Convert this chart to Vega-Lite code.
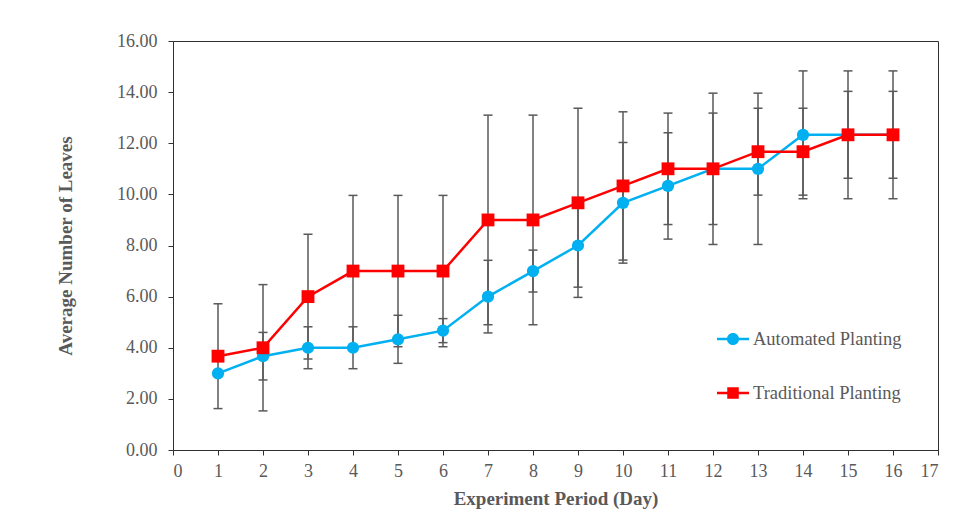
{
  "$schema": "https://vega.github.io/schema/vega-lite/v6.json",
  "width": 765,
  "height": 409,
  "autosize": {"type": "none"},
  "padding": {"left": 173, "top": 41, "right": 35, "bottom": 80},
  "background": "white",
  "config": {
    "view": {"stroke": "#303030", "strokeWidth": 1},
    "font": "Liberation Serif",
    "axis": {
      "labelFont": "Liberation Serif",
      "labelFontSize": 18,
      "labelColor": "#595959",
      "titleFont": "Liberation Serif",
      "titleFontSize": 19,
      "titleFontWeight": "bold",
      "titleColor": "#595959",
      "domainColor": "#303030",
      "tickColor": "#303030",
      "tickSize": 5,
      "grid": false
    },
    "legend": {
      "title": null, "orient": "none", "legendX": 544, "legendY": 282,
      "symbolSize": 1024, "symbolOpacity": 1, "symbolStrokeWidth": 0,
      "labelFont": "Liberation Serif", "labelFontSize": 18.5, "labelColor": "#595959",
      "labelOffset": 4, "rowPadding": 28
    }
  },
  "data": {
    "values": [
      {"day": 1, "series": "Automated Planting", "mean": 3.00, "lo": 3.00, "hi": 3.00},
      {"day": 2, "series": "Automated Planting", "mean": 3.67, "lo": 2.74, "hi": 4.60},
      {"day": 3, "series": "Automated Planting", "mean": 4.00, "lo": 3.18, "hi": 4.82},
      {"day": 4, "series": "Automated Planting", "mean": 4.00, "lo": 3.18, "hi": 4.82},
      {"day": 5, "series": "Automated Planting", "mean": 4.33, "lo": 3.39, "hi": 5.27},
      {"day": 6, "series": "Automated Planting", "mean": 4.67, "lo": 4.20, "hi": 5.14},
      {"day": 7, "series": "Automated Planting", "mean": 6.00, "lo": 4.58, "hi": 7.42},
      {"day": 8, "series": "Automated Planting", "mean": 7.00, "lo": 6.18, "hi": 7.82},
      {"day": 9, "series": "Automated Planting", "mean": 8.00, "lo": 6.37, "hi": 9.63},
      {"day": 10, "series": "Automated Planting", "mean": 9.67, "lo": 7.31, "hi": 12.03},
      {"day": 11, "series": "Automated Planting", "mean": 10.33, "lo": 8.25, "hi": 12.41},
      {"day": 12, "series": "Automated Planting", "mean": 11.00, "lo": 8.82, "hi": 13.18},
      {"day": 13, "series": "Automated Planting", "mean": 11.00, "lo": 8.04, "hi": 13.96},
      {"day": 14, "series": "Automated Planting", "mean": 12.33, "lo": 9.83, "hi": 14.83},
      {"day": 15, "series": "Automated Planting", "mean": 12.33, "lo": 10.63, "hi": 14.03},
      {"day": 16, "series": "Automated Planting", "mean": 12.33, "lo": 10.63, "hi": 14.03},
      {"day": 1, "series": "Traditional Planting", "mean": 3.67, "lo": 1.62, "hi": 5.72},
      {"day": 2, "series": "Traditional Planting", "mean": 4.00, "lo": 1.53, "hi": 6.47},
      {"day": 3, "series": "Traditional Planting", "mean": 6.00, "lo": 3.56, "hi": 8.44},
      {"day": 4, "series": "Traditional Planting", "mean": 7.00, "lo": 4.04, "hi": 9.96},
      {"day": 5, "series": "Traditional Planting", "mean": 7.00, "lo": 4.04, "hi": 9.96},
      {"day": 6, "series": "Traditional Planting", "mean": 7.00, "lo": 4.04, "hi": 9.96},
      {"day": 7, "series": "Traditional Planting", "mean": 9.00, "lo": 4.90, "hi": 13.10},
      {"day": 8, "series": "Traditional Planting", "mean": 9.00, "lo": 4.90, "hi": 13.10},
      {"day": 9, "series": "Traditional Planting", "mean": 9.67, "lo": 5.97, "hi": 13.37},
      {"day": 10, "series": "Traditional Planting", "mean": 10.33, "lo": 7.43, "hi": 13.23},
      {"day": 11, "series": "Traditional Planting", "mean": 11.00, "lo": 8.82, "hi": 13.18},
      {"day": 12, "series": "Traditional Planting", "mean": 11.00, "lo": 8.04, "hi": 13.96},
      {"day": 13, "series": "Traditional Planting", "mean": 11.67, "lo": 9.97, "hi": 13.37},
      {"day": 14, "series": "Traditional Planting", "mean": 11.67, "lo": 9.97, "hi": 13.37},
      {"day": 15, "series": "Traditional Planting", "mean": 12.33, "lo": 9.83, "hi": 14.83},
      {"day": 16, "series": "Traditional Planting", "mean": 12.33, "lo": 9.83, "hi": 14.83}
    ]
  },
  "encoding": {
    "x": {
      "field": "day", "type": "quantitative",
      "scale": {"domain": [0, 17], "nice": false, "zero": false},
      "axis": {"values": [0,1,2,3,4,5,6,7,8,9,10,11,12,13,14,15,16,17], "title": "Experiment Period (Day)", "labelPadding": 7, "titlePadding": 9}
    }
  },
  "layer": [
    {
      "mark": {"type": "rule", "color": "#595959", "strokeWidth": 1.5},
      "encoding": {
        "y": {"field": "lo", "type": "quantitative", "scale": {"domain": [0, 16], "nice": false},
          "axis": {"values": [0,2,4,6,8,10,12,14,16], "format": ".2f", "title": "Average Number of Leaves", "labelPadding": 11, "titlePadding": 41}},
        "y2": {"field": "hi"}
      }
    },
    {
      "mark": {"type": "tick", "orient": "horizontal", "color": "#595959", "size": 9, "thickness": 1.5, "opacity": 1},
      "encoding": {"y": {"field": "lo", "type": "quantitative"}}
    },
    {
      "mark": {"type": "tick", "orient": "horizontal", "color": "#595959", "size": 9, "thickness": 1.5, "opacity": 1},
      "encoding": {"y": {"field": "hi", "type": "quantitative"}}
    },
    {
      "mark": {"type": "point", "filled": true, "opacity": 0, "size": 1},
      "encoding": {
        "y": {"field": "mean", "type": "quantitative"},
        "color": {"field": "series", "type": "nominal",
          "scale": {"domain": ["Automated Planting", "Traditional Planting"], "range": ["#00B0F0", "#FF0000"]}},
        "shape": {"field": "series", "type": "nominal",
          "scale": {"domain": ["Automated Planting", "Traditional Planting"],
            "range": ["M-1,-0.08H1V0.08H-1Z M0.38,0A0.38,0.38 0 1,1 -0.38,0A0.38,0.38 0 1,1 0.38,0Z", "M-1,-0.08H1V0.08H-1Z M-0.36,-0.36H0.36V0.36H-0.36Z"]}}
      }
    },
    {
      "mark": {"type": "line", "strokeWidth": 2.5},
      "encoding": {
        "y": {"field": "mean", "type": "quantitative"},
        "color": {"field": "series", "type": "nominal"}
      }
    },
    {
      "transform": [{"filter": "datum.series === 'Automated Planting'"}],
      "mark": {"type": "point", "shape": "circle", "filled": true, "opacity": 1, "size": 150},
      "encoding": {
        "y": {"field": "mean", "type": "quantitative"},
        "color": {"field": "series", "type": "nominal"}
      }
    },
    {
      "transform": [{"filter": "datum.series === 'Traditional Planting'"}],
      "mark": {"type": "point", "shape": "square", "filled": true, "opacity": 1, "size": 165},
      "encoding": {
        "y": {"field": "mean", "type": "quantitative"},
        "color": {"field": "series", "type": "nominal"}
      }
    }
  ]
}
